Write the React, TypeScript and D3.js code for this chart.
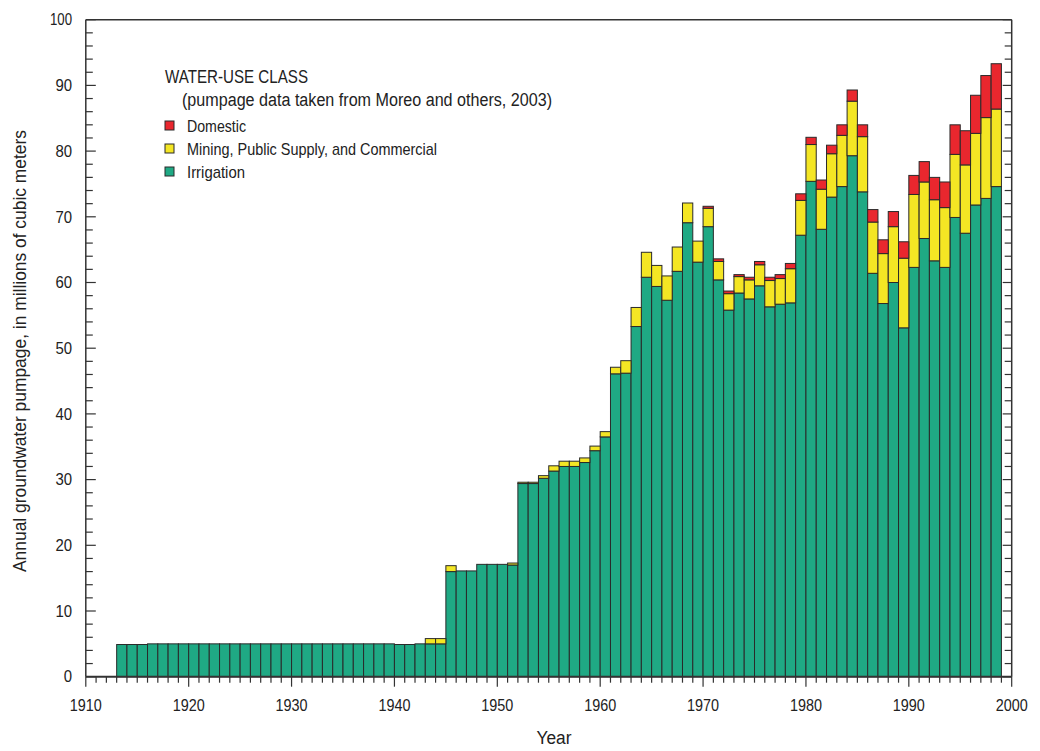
import React from "react";
import * as d3 from "d3";

const years: number[] = d3.range(1913, 1999);

const irrigation: number[] = [
  4.9, 4.9, 4.9,
  5.0, 5.0, 5.0, 5.0, 5.0, 5.0, 5.0, 5.0, 5.0, 5.0, 5.0, 5.0,
  5.0, 5.0, 5.0, 5.0, 5.0, 5.0, 5.0, 5.0, 5.0, 5.0, 5.0, 5.0,
  4.9, 4.9, 5.0, 5.0, 5.0,
  16.0, 16.1, 16.1, 17.1, 17.1, 17.1, 17.0,
  29.4, 29.4, 30.2, 31.3, 32.0, 32.0, 32.6, 34.4, 36.5,
  46.1, 46.2, 53.3, 60.8, 59.4, 57.3, 61.7, 69.1, 63.1,
  68.5, 60.4, 55.8, 58.4, 57.5, 59.5, 56.3, 56.7, 56.9, 67.2,
  75.4, 68.1, 73.0, 74.6, 79.3, 73.8, 61.4, 56.8, 60.0, 53.1,
  62.3, 66.7, 63.3, 62.3, 69.9, 67.5, 71.8, 72.8, 74.6,
];

const mining: number[] = [
  0, 0, 0,
  0, 0, 0, 0, 0, 0, 0, 0, 0, 0, 0, 0,
  0, 0, 0, 0, 0, 0, 0, 0, 0, 0, 0, 0,
  0, 0, 0, 0.8, 0.8,
  0.9, 0, 0, 0, 0, 0, 0.3,
  0.2, 0.2, 0.4, 0.8, 0.8, 0.8, 0.7, 0.7, 0.8,
  1.0, 1.9, 2.9, 3.8, 3.2, 3.7, 3.7, 3.0, 3.2,
  2.8, 2.8, 2.5, 2.5, 2.9, 3.2, 4.0, 3.9, 5.2, 5.3,
  5.6, 6.1, 6.6, 7.8, 8.3, 8.4, 7.8, 7.6, 8.5, 10.6,
  11.1, 8.6, 9.3, 9.1, 9.6, 10.4, 10.9, 12.3, 11.8,
];

const domestic: number[] = [
  0, 0, 0,
  0, 0, 0, 0, 0, 0, 0, 0, 0, 0, 0, 0,
  0, 0, 0, 0, 0, 0, 0, 0, 0, 0, 0, 0,
  0, 0, 0, 0, 0,
  0, 0, 0, 0, 0, 0, 0,
  0, 0, 0, 0, 0, 0, 0, 0, 0,
  0, 0, 0, 0, 0, 0, 0, 0, 0,
  0.3, 0.4, 0.4, 0.3, 0.4, 0.5, 0.5, 0.6, 0.8, 1.0,
  1.1, 1.4, 1.3, 1.6, 1.7, 1.8, 1.9, 2.1, 2.3, 2.5,
  2.9, 3.1, 3.4, 3.9, 4.5, 5.2, 5.8, 6.4, 6.9,
];

const seriesKeys = ["irrigation", "mining", "domestic"];
const seriesColors: Record<string, string> = {
  irrigation: "#1fa984",
  mining: "#f4e624",
  domestic: "#e9272e",
};
const legendItems = [
  { key: "domestic", label: "Domestic", width: 59 },
  { key: "mining", label: "Mining, Public Supply, and Commercial", width: 250 },
  { key: "irrigation", label: "Irrigation", width: 58 },
];

const xTickLabels: number[] = [1910, 1920, 1930, 1940, 1950, 1960, 1970, 1980, 1990, 2000];
const yTickLabels: number[] = [0, 10, 20, 30, 40, 50, 60, 70, 80, 90, 100];

const SANS = "'Liberation Sans', Arial, sans-serif";

export default function App() {
  const W = 1040;
  const H = 751;
  const x0 = 85.8, x1 = 1011.7, yb = 676.7, yt = 19.7;
  const x = d3.scaleLinear().domain([1910, 2000]).range([x0, x1]);
  const y = d3.scaleLinear().domain([0, 100]).range([yb, yt]);

  const table = years.map((yr, i) => ({
    year: yr,
    irrigation: irrigation[i],
    mining: mining[i],
    domestic: domestic[i],
  }));
  const stacked = d3.stack<any>().keys(seriesKeys)(table);

  const axisColor = "#333";
  const yearTicks = d3.range(1910, 2001);
  const yMinor = d3.range(0, 101, 2);

  return (
    <svg
      width={W}
      height={H}
      style={{ position: "absolute", left: 0, top: 0, background: "#fff" }}
    >
      {/* bars */}
      <g>
        {stacked.map((s) => (
          <g key={s.key} fill={seriesColors[s.key]}>
            {s.map((d, i) =>
              d[1] - d[0] > 0 ? (
                <rect
                  key={i}
                  x={x(d.data.year)}
                  width={x(d.data.year + 1) - x(d.data.year)}
                  y={y(d[1])}
                  height={y(d[0]) - y(d[1])}
                  stroke="#2a2a2a"
                  strokeWidth={1}
                />
              ) : null
            )}
          </g>
        ))}
      </g>

      {/* frame */}
      <line x1={x0} x2={x1} y1={yt} y2={yt} stroke={axisColor} strokeWidth={1.5} />
      <line x1={x0} x2={x0} y1={yt} y2={yb} stroke={axisColor} strokeWidth={1.5} />
      <line x1={x1} x2={x1} y1={yt} y2={yb} stroke={axisColor} strokeWidth={1.5} />
      <line x1={x0} x2={x1} y1={yb} y2={yb} stroke={axisColor} strokeWidth={2} />

      {/* y ticks */}
      {yMinor.map((v) => {
        const major = v % 10 === 0;
        const len = major ? 10 : 7;
        return (
          <g key={v}>
            <line x1={x0} x2={x0 + len} y1={y(v)} y2={y(v)} stroke={axisColor} strokeWidth={1.2} />
            <line x1={x1} x2={x1 - (major ? 9 : 7)} y1={y(v)} y2={y(v)} stroke={axisColor} strokeWidth={1.2} />
          </g>
        );
      })}
      {yTickLabels.map((v) => {
        const n = String(v).length;
        return (
          <text
            key={v}
            x={72}
            y={y(v) + 5.7}
            textAnchor="end"
            fontFamily={SANS}
            fontSize={16}
            fill="#222"
            textLength={n === 3 ? 22 : n * 8.3}
            lengthAdjust="spacingAndGlyphs"
          >
            {v}
          </text>
        );
      })}

      {/* x ticks */}
      {yearTicks.map((v) => (
        <line
          key={v}
          x1={x(v)}
          x2={x(v)}
          y1={yb}
          y2={yb + (v % 10 === 0 ? 10 : 6)}
          stroke={axisColor}
          strokeWidth={1.2}
        />
      ))}
      {xTickLabels.map((v) => (
        <text
          key={v}
          x={x(v)}
          y={711}
          textAnchor="middle"
          fontFamily={SANS}
          fontSize={16}
          fill="#222"
          textLength={32}
          lengthAdjust="spacingAndGlyphs"
        >
          {v}
        </text>
      ))}

      {/* axis titles */}
      <text
        x={554}
        y={744}
        textAnchor="middle"
        fontFamily={SANS}
        fontSize={18}
        fill="#222"
        textLength={35}
        lengthAdjust="spacingAndGlyphs"
      >
        Year
      </text>
      <text
        transform={`translate(26, 351) rotate(-90)`}
        textAnchor="middle"
        fontFamily={SANS}
        fontSize={17.5}
        fill="#222"
        textLength={442}
        lengthAdjust="spacingAndGlyphs"
      >
        Annual groundwater pumpage, in millions of cubic meters
      </text>

      {/* legend */}
      <text
        x={165}
        y={83}
        fontFamily={SANS}
        fontSize={18}
        fill="#222"
        textLength={143}
        lengthAdjust="spacingAndGlyphs"
      >
        WATER-USE CLASS
      </text>
      <text
        x={182}
        y={106}
        fontFamily={SANS}
        fontSize={18}
        fill="#222"
        textLength={370}
        lengthAdjust="spacingAndGlyphs"
      >
        (pumpage data taken from Moreo and others, 2003)
      </text>
      {legendItems.map((it, i) => (
        <g key={it.key} transform={`translate(165, ${121 + i * 23})`}>
          <rect x={0} y={0} width={9} height={9} fill={seriesColors[it.key]} stroke="#2a2a2a" strokeWidth={1} />
          <text
            x={22}
            y={10.5}
            fontFamily={SANS}
            fontSize={17}
            fill="#222"
            textLength={it.width}
            lengthAdjust="spacingAndGlyphs"
          >
            {it.label}
          </text>
        </g>
      ))}
    </svg>
  );
}
